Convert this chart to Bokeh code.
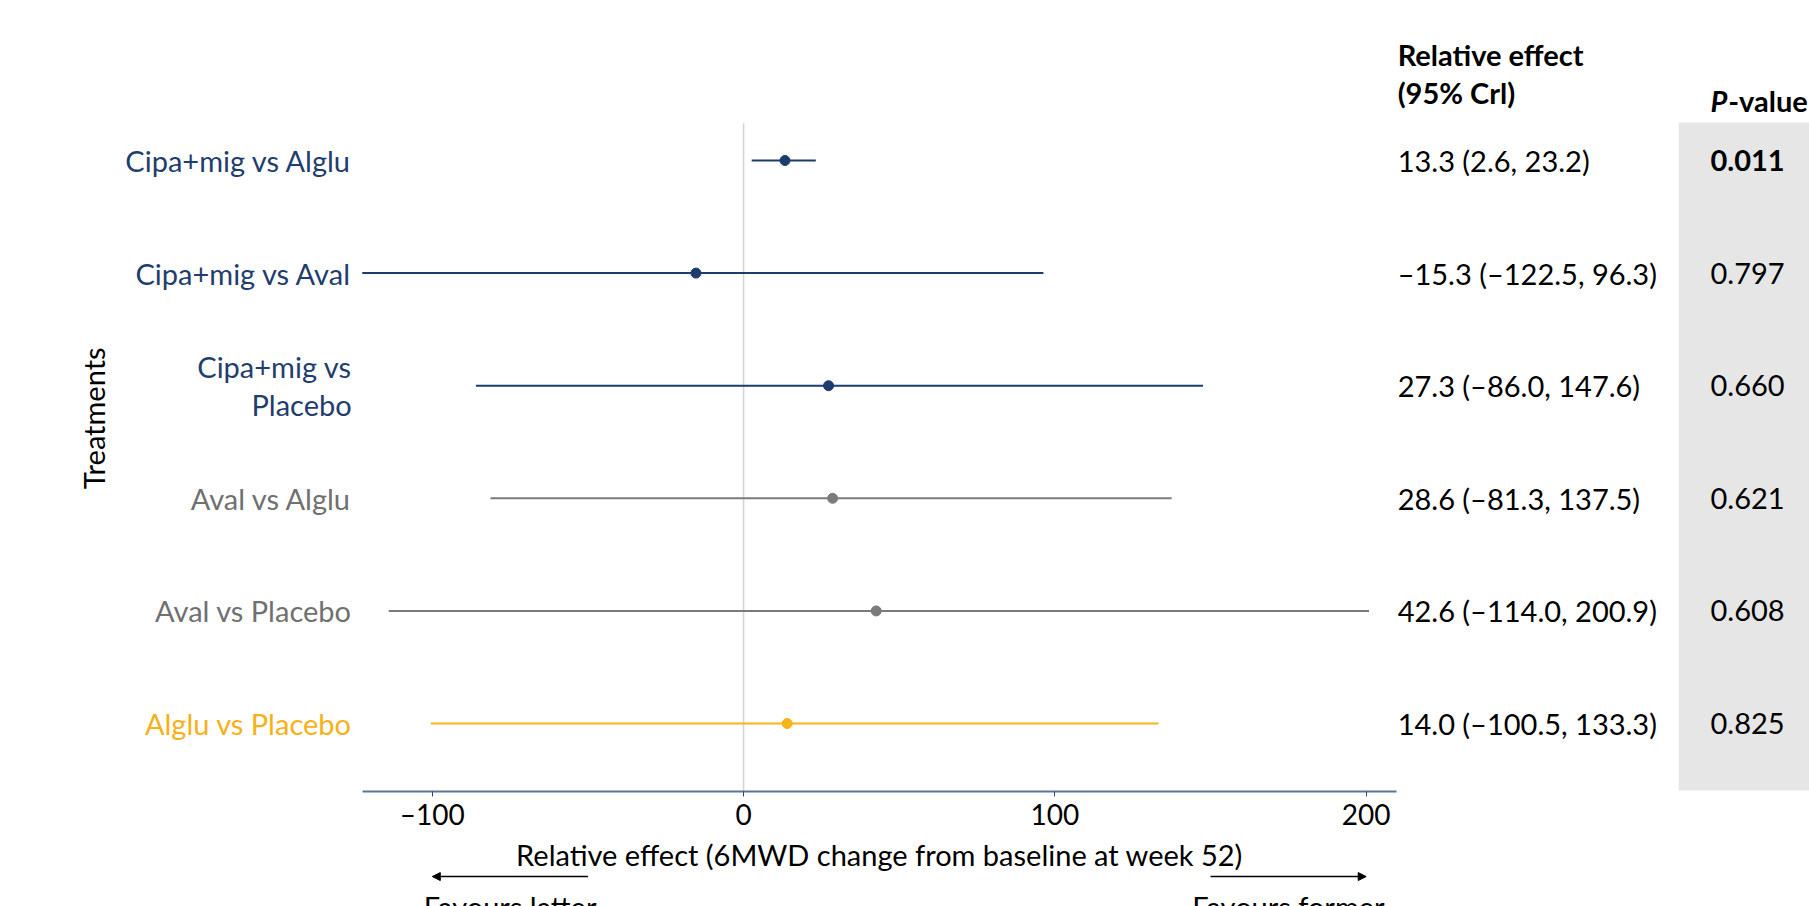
import math
from bokeh.plotting import figure
from bokeh.models import (Range1d, FixedTicker, Label, Arrow, NormalHead, ColumnDataSource)
from bokeh.core.properties import value
from bokeh.embed import file_html
from bokeh.resources import INLINE

# ---------------- data ----------------
comparisons = ["Cipa+mig vs Alglu", "Cipa+mig vs Aval", "Cipa+mig vs\nPlacebo",
               "Aval vs Alglu", "Aval vs Placebo", "Alglu vs Placebo"]
estimate = [13.3, -15.3, 27.3, 28.6, 42.6, 14.0]
lower = [2.6, -122.5, -86.0, -81.3, -114.0, -100.5]
upper = [23.2, 96.3, 147.6, 137.5, 200.9, 133.3]
p_values = ["0.011", "0.797", "0.660", "0.621", "0.608", "0.825"]
p_bold = [True, False, False, False, False, False]
group = ["cipa", "cipa", "cipa", "aval", "aval", "alglu"]
x_ticks = [-100, 0, 100, 200]

line_colors = {"cipa": "#1d3c6c", "aval": "#7b7b7b", "alglu": "#f6b41a"}
label_colors = {"cipa": "#1f3d6d", "aval": "#707070", "alglu": "#f7b117"}

FONT = "Lato"
FS = "29px"

rows = list(range(len(comparisons)))
effect_text = [("%.1f (%.1f, %.1f)" % (e, l, u)).replace("-", "\u2013")
               for e, l, u in zip(estimate, lower, upper)]

src = ColumnDataSource(dict(
    row=rows, est=estimate, lo=lower, hi=upper, lab=comparisons,
    eff=effect_text, p=p_values,
    lc=[line_colors[g] for g in group], tc=[label_colors[g] for g in group],
))

W, H = 1809, 906
AXIS_Y = 5.604
p = figure(width=W, height=H, output_backend="svg", toolbar_location=None,
           x_range=Range1d(-238.7, 342.4), y_range=Range1d(6.625, -1.421),
           min_border_left=0, min_border_right=0, min_border_top=0,
           min_border_bottom=0, y_axis_location=None,
           background_fill_color="white", border_fill_color="white",
           outline_line_color=None)
p.grid.visible = False

# grey p-value column
p.quad(left=[300.4], right=[400], top=[-0.337], bottom=[5.595],
       fill_color="#e6e6e6", line_color=None)

# zero line
p.segment(x0=[0], x1=[0], y0=[-0.33], y1=[AXIS_Y], line_color="#d3d3d3", line_width=1.5)

# CI lines and points
p.segment(x0="lo", x1="hi", y0="row", y1="row", line_color="lc", line_width=2, source=src)
p.scatter(x="est", y="row", size=10, fill_color="lc", line_color="lc", source=src)

# y labels
p.text(x=-125.9, y="row", text="lab", text_color="tc", text_align="right",
       text_baseline="middle", text_font=value(FONT), text_font_size=FS,
       text_line_height=1.1, source=src)

# relative effect column
p.text(x=210.1, y="row", text="eff", text_color="black", text_align="left",
       text_baseline="middle", text_font=value(FONT), text_font_size=FS, source=src)

# p-values
normal = [i for i, b in enumerate(p_bold) if not b]
bold = [i for i, b in enumerate(p_bold) if b]
p.text(x=[310.6] * len(normal), y=[rows[i] for i in normal], text=[p_values[i] for i in normal],
       text_color="black", text_baseline="middle", text_font=value(FONT), text_font_size=FS)
p.text(x=[310.6] * len(bold), y=[rows[i] for i in bold], text=[p_values[i] for i in bold],
       text_color="black", text_baseline="middle", text_font=value(FONT), text_font_size=FS,
       text_font_style="bold")

# headers
p.text(x=[210.1, 210.1], y=[-0.941, -0.601], text=["Relative effect", "(95% Crl)"],
       text_color="black", text_baseline="middle", text_font=value(FONT),
       text_font_size=FS, text_font_style="bold")
p.text(x=[310.6], y=[-0.53], text=["P"], text_color="black", text_baseline="middle",
       text_font=value(FONT), text_font_size=FS, text_font_style="bold italic")
p.text(x=[316.3], y=[-0.53], text=["-value"], text_color="black", text_baseline="middle",
       text_font=value(FONT), text_font_size=FS, text_font_style="bold")

# y axis title
p.text(x=[-208.8], y=[2.29], text=["Treatments"], angle=math.pi / 2, text_align="center",
       text_baseline="middle", text_color="black", text_font=value(FONT), text_font_size=FS)

# x axis, drawn at a fixed position inside the frame
ax = p.xaxis[0]
ax.fixed_location = AXIS_Y
ax.ticker = FixedTicker(ticks=x_ticks)
ax.bounds = (-122.5, 209.7)
ax.major_label_overrides = {-100: "\u2013100"}
ax.axis_line_color = "#5b7495"
ax.axis_line_width = 2
ax.major_tick_line_color = "#2a4a7a"
ax.major_tick_out = 5
ax.major_tick_in = 0
ax.minor_tick_line_color = None
ax.major_label_text_font = FONT
ax.major_label_text_font_size = "28px"
ax.major_label_text_color = "black"
ax.major_label_standoff = 0
ax.axis_label = "Relative effect (6MWD change from baseline at week 52)"
ax.axis_label_text_font = FONT
ax.axis_label_text_font_size = FS
ax.axis_label_text_font_style = "normal"
ax.axis_label_text_color = "black"
ax.axis_label_standoff = 3

# favours arrows
for xs, xe in [(-50, -100), (150, 200)]:
    p.add_layout(Arrow(end=NormalHead(size=8, fill_color="black", line_color="black"),
                       x_start=xs, y_start=6.359, x_end=xe, y_end=6.359,
                       line_color="black", line_width=1.5))
for xc, t in [(-75, "Favours latter"), (175, "Favours former")]:
    p.add_layout(Label(x=xc, y=6.47, text=t, text_align="center", text_baseline="top",
                       text_font=FONT, text_font_size=FS, text_color="black"))

open("out.html", "w").write(file_html(p, INLINE))
